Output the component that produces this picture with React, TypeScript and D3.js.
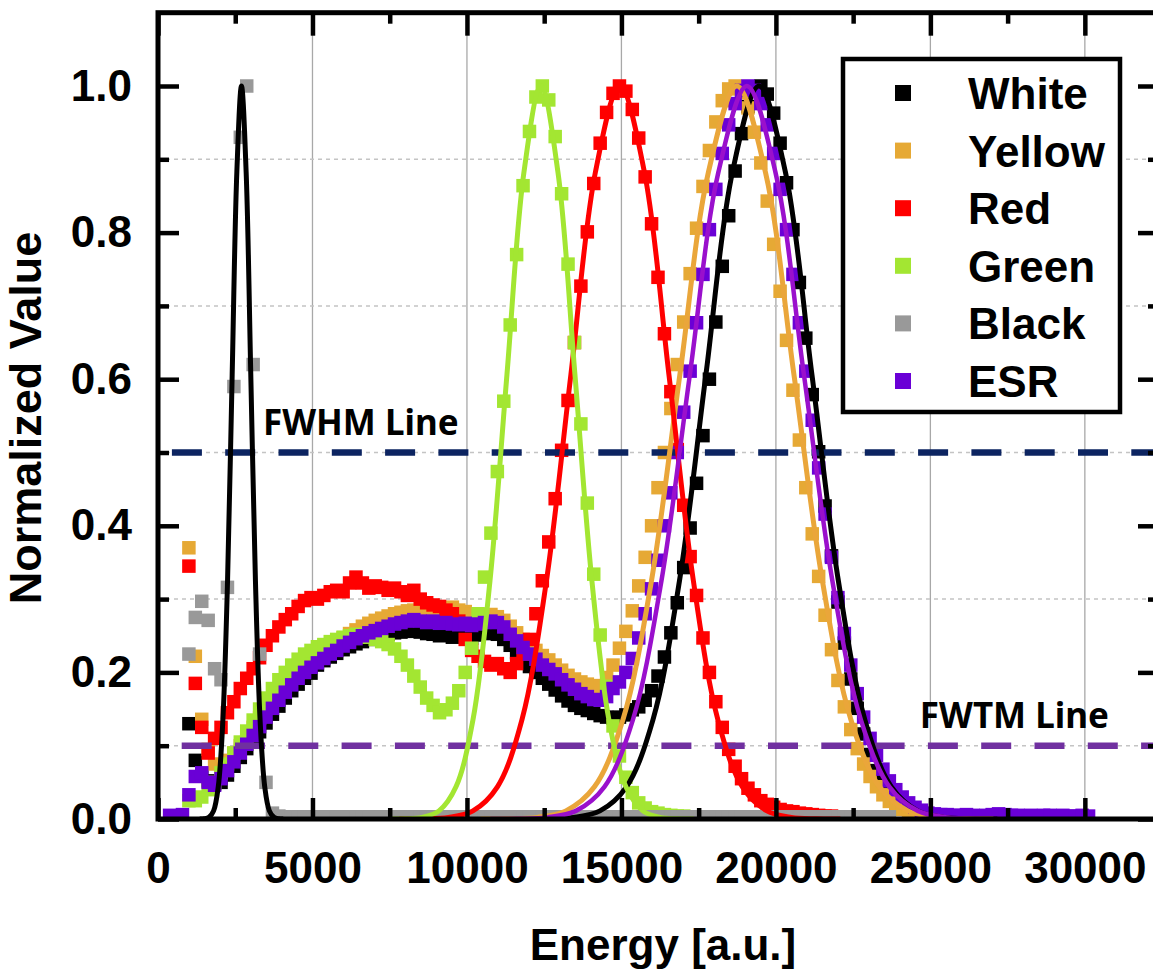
import React, { useRef, useEffect } from "react";
import * as d3 from "d3";

// spectra are binned every 208 a.u.
const binWidth = 208;

const seriesNames = ["White", "Yellow", "Red", "Green", "Black", "ESR"];
const markerColors = ["#000000", "#e6a935", "#ff0000", "#a3e632", "#999999", "#6a00d6"];
const fitColors = ["#000000", "#eaa63a", "#ff0000", "#a3e632", "#000000", "#9a10cc"];
const firstBin = [1000, 1000, 1000, 1000, 1000, 376];

const whiteValues = [
  0.13, 0.08, 0.06, 0.052, 0.048, 0.05, 0.06, 0.072, 0.084, 0.096,
  0.107, 0.119, 0.131, 0.143, 0.154, 0.165, 0.175, 0.184, 0.192, 0.199,
  0.21, 0.216, 0.221, 0.226, 0.231, 0.235, 0.239, 0.242, 0.245, 0.248,
  0.25, 0.252, 0.254, 0.255, 0.256, 0.257, 0.255, 0.253, 0.252, 0.25,
  0.251, 0.248, 0.25, 0.249, 0.247, 0.251, 0.253, 0.255, 0.252, 0.245,
  0.237, 0.227, 0.217, 0.208, 0.2, 0.192, 0.184, 0.176, 0.168, 0.161,
  0.155, 0.151, 0.148, 0.144, 0.141, 0.139, 0.138, 0.139, 0.142, 0.149,
  0.153, 0.162, 0.175, 0.195, 0.221, 0.254, 0.295, 0.343, 0.397, 0.458,
  0.523, 0.6, 0.678, 0.754, 0.823, 0.884, 0.935, 0.972, 0.994, 1.0,
  0.989, 0.963, 0.922, 0.868, 0.804, 0.732, 0.656, 0.579, 0.501, 0.427,
  0.359, 0.296, 0.24, 0.191, 0.151, 0.116, 0.088, 0.066, 0.049, 0.035,
  0.025, 0.018, 0.013, 0.009, 0.007, 0.005,
];

const yellowValues = [
  0.37, 0.222, 0.136, 0.095, 0.075, 0.072, 0.08, 0.09, 0.1, 0.112,
  0.125, 0.138, 0.151, 0.164, 0.176, 0.187, 0.197, 0.206, 0.214, 0.221,
  0.225, 0.231, 0.236, 0.242, 0.247, 0.253, 0.258, 0.263, 0.267, 0.271,
  0.274, 0.277, 0.28, 0.282, 0.284, 0.285, 0.283, 0.282, 0.284, 0.286,
  0.287, 0.289, 0.285, 0.283, 0.28, 0.279, 0.277, 0.279, 0.276, 0.271,
  0.263, 0.254, 0.245, 0.237, 0.23, 0.223, 0.217, 0.21, 0.203, 0.196,
  0.191, 0.187, 0.184, 0.181, 0.182, 0.193, 0.21, 0.233, 0.256, 0.284,
  0.318, 0.357, 0.4, 0.452, 0.5, 0.56, 0.62, 0.678, 0.744, 0.806,
  0.863, 0.912, 0.951, 0.98, 0.996, 1.0, 0.991, 0.97, 0.937, 0.895,
  0.843, 0.784, 0.72, 0.653, 0.585, 0.517, 0.452, 0.389, 0.331, 0.278,
  0.231, 0.189, 0.153, 0.122, 0.096, 0.075, 0.058, 0.044, 0.033, 0.024,
  0.018, 0.013, 0.01, 0.008, 0.006, 0.005,
];

const redValues = [
  0.345, 0.185, 0.125, 0.09, 0.11, 0.125, 0.145, 0.16, 0.178, 0.192,
  0.205, 0.22, 0.237, 0.25, 0.262, 0.272, 0.28, 0.29, 0.298, 0.302,
  0.3, 0.305, 0.31, 0.312, 0.31, 0.322, 0.33, 0.322, 0.315, 0.318,
  0.316, 0.312, 0.315, 0.31, 0.305, 0.312, 0.3, 0.295, 0.292, 0.29,
  0.285, 0.28, 0.27, 0.245, 0.23, 0.222, 0.215, 0.21, 0.212, 0.205,
  0.2, 0.212, 0.225, 0.245, 0.28, 0.325, 0.378, 0.437, 0.503, 0.571,
  0.65, 0.727, 0.801, 0.867, 0.922, 0.964, 0.99, 1.0, 0.993, 0.968,
  0.929, 0.876, 0.812, 0.739, 0.662, 0.583, 0.504, 0.428, 0.358, 0.305,
  0.247, 0.2, 0.16, 0.125, 0.095, 0.072, 0.055, 0.042, 0.033, 0.025,
  0.02, 0.016, 0.013, 0.011, 0.01, 0.008, 0.007, 0.006, 0.005, 0.004,
  0.004, 0.003, 0.003, 0.002, 0.002, 0.002,
];

const greenValues = [
  0.025, 0.025, 0.03, 0.04, 0.05, 0.063, 0.075, 0.09, 0.105, 0.12,
  0.135, 0.15, 0.165, 0.178, 0.19, 0.2, 0.21, 0.218, 0.225, 0.23,
  0.235, 0.238, 0.242, 0.245, 0.248, 0.25, 0.252, 0.25, 0.248, 0.245,
  0.242, 0.238, 0.232, 0.222, 0.21, 0.195, 0.18, 0.165, 0.155, 0.145,
  0.149, 0.158, 0.175, 0.2, 0.233, 0.28, 0.33, 0.39, 0.474, 0.57,
  0.674, 0.77, 0.864, 0.938, 0.985, 1.0, 0.981, 0.931, 0.853, 0.757,
  0.65, 0.539, 0.431, 0.334, 0.251, 0.181, 0.127, 0.086, 0.057, 0.036,
  0.022, 0.015, 0.01, 0.008, 0.006, 0.005, 0.004, 0.004, 0.003, 0.003,
  0.003, 0.003, 0.003, 0.003, 0.003, 0.003, 0.003, 0.003, 0.003, 0.003,
  0.003, 0.003, 0.003, 0.003, 0.003, 0.003, 0.003, 0.003, 0.003, 0.003,
  0.003, 0.003, 0.003, 0.003, 0.003, 0.003, 0.003, 0.003, 0.003, 0.003,
];

const blackValues = [
  0.225, 0.275, 0.297, 0.271, 0.205, 0.19, 0.316, 0.59, 0.93, 1.0,
  0.62, 0.225, 0.05, 0.008, 0.004, 0.003, 0.003, 0.003, 0.003, 0.003,
  0.003, 0.003, 0.003, 0.003, 0.003, 0.003, 0.003, 0.003, 0.003, 0.003,
  0.003, 0.003, 0.003, 0.003, 0.003, 0.003, 0.003, 0.003, 0.003, 0.003,
  0.003, 0.003, 0.003, 0.003, 0.003, 0.003, 0.003, 0.003, 0.003, 0.003,
  0.003, 0.003, 0.003, 0.003, 0.003, 0.003, 0.003, 0.003, 0.003, 0.003,
  0.003, 0.003, 0.003, 0.003, 0.003, 0.003, 0.003, 0.003, 0.003, 0.003,
  0.003, 0.003, 0.003, 0.003, 0.003, 0.003, 0.003, 0.003, 0.003, 0.003,
  0.003, 0.003, 0.003, 0.003, 0.003, 0.003, 0.003, 0.003, 0.003, 0.003,
  0.003, 0.003, 0.003, 0.003, 0.003, 0.003, 0.003, 0.003, 0.003, 0.003,
  0.003, 0.003, 0.003, 0.003, 0.003, 0.003, 0.003, 0.003, 0.003, 0.003,
];

const esrValues = [
  0.005, 0.004, 0.006,
  0.033, 0.058, 0.063, 0.05, 0.046, 0.055, 0.066, 0.078, 0.09, 0.102,
  0.114, 0.126, 0.139, 0.151, 0.162, 0.173, 0.183, 0.192, 0.2, 0.207,
  0.213, 0.219, 0.225, 0.23, 0.236, 0.241, 0.246, 0.25, 0.254, 0.257,
  0.26, 0.263, 0.266, 0.268, 0.27, 0.272, 0.27, 0.268, 0.27, 0.267,
  0.268, 0.266, 0.265, 0.267, 0.264, 0.266, 0.268, 0.27, 0.268, 0.262,
  0.252, 0.243, 0.234, 0.225, 0.218, 0.21, 0.204, 0.198, 0.19, 0.183,
  0.177, 0.171, 0.167, 0.163, 0.162, 0.167, 0.178, 0.187, 0.2, 0.219,
  0.247, 0.28, 0.314, 0.353, 0.4, 0.445, 0.5, 0.555, 0.611, 0.677,
  0.743, 0.804, 0.859, 0.908, 0.947, 0.976, 0.994, 1.0, 0.994, 0.976,
  0.947, 0.908, 0.859, 0.804, 0.743, 0.677, 0.611, 0.544, 0.479, 0.416,
  0.357, 0.302, 0.253, 0.21, 0.171, 0.139, 0.11, 0.087, 0.068, 0.052,
  0.04, 0.03, 0.022, 0.016, 0.012, 0.008, 0.007, 0.006, 0.006, 0.005,
  0.005, 0.006, 0.005, 0.004, 0.005, 0.006, 0.007, 0.006, 0.005, 0.005,
  0.004, 0.005, 0.004, 0.005, 0.005, 0.004, 0.005, 0.004, 0.004, 0.005, 0.004,
];

const seriesValues = [whiteValues, yellowValues, redValues, greenValues, blackValues, esrValues];

// gaussian fits: normalized profile (half-sigma steps) and the energies of each fit
const fitProfile = [0, 0.0003, 0.0022, 0.0111, 0.0439, 0.1353, 0.3247, 0.6065, 0.8825, 1,
  0.8825, 0.6065, 0.3247, 0.1353, 0.0439, 0.0111, 0.0022, 0.0003, 0];
const whiteFitEnergy = [11733, 12590, 13448, 14305, 15163, 16020, 16878, 17735, 18593, 19450,
  20308, 21165, 22023, 22880, 23738, 24595, 25453, 26310, 27168];
const yellowFitEnergy = [10436, 11358, 12281, 13203, 14126, 15048, 15971, 16893, 17816, 18738,
  19661, 20583, 21506, 22428, 23351, 24273, 25196, 26118, 27041];
const redFitEnergy = [7814, 8607, 9400, 10193, 10986, 11779, 12572, 13365, 14158, 14951,
  15744, 16537, 17330, 18123, 18916, 19709, 20502, 21295, 22088];
const greenFitEnergy = [7445, 7995, 8545, 9095, 9645, 10195, 10745, 11295, 11845, 12395,
  12945, 13495, 14045, 14595, 15145, 15695, 16245, 16795, 17345];
const blackFitEnergy = [1348, 1498, 1649, 1799, 1950, 2100, 2251, 2401, 2552, 2702,
  2853, 3003, 3154, 3304, 3455, 3605, 3756, 3906, 4057];
const esrFitEnergy = [10759, 11681, 12604, 13526, 14449, 15371, 16294, 17216, 18139, 19061,
  19984, 20906, 21829, 22751, 23674, 24596, 25519, 26441, 27364];
const fitEnergies = [whiteFitEnergy, yellowFitEnergy, redFitEnergy, greenFitEnergy, blackFitEnergy, esrFitEnergy];

const xTicks = [0, 5000, 10000, 15000, 20000, 25000, 30000];
const xMinorTicks = [2500, 7500, 12500, 17500, 22500, 27500];
const yTicks = [0, 0.2, 0.4, 0.6, 0.8, 1.0];
const yMinorTicks = [0.1, 0.3, 0.5, 0.7, 0.9];

const refLabels = ["FWHM Line", "FWTM Line"];
const refValues = [0.5, 0.1];
const refStart = [450, 767];
const refLabelAt = [3400, 24660];
const refColors = ["#0c2461", "#7030a0"];

const App = () => {
  const svgRef = useRef(null);
  const width = 1153;
  const height = 973;
  const left = 158, right = 1159, top = 12.7, bottom = 819;
  const markerSize = 13.5;

  useEffect(() => {
    const svg = d3.select(svgRef.current);
    svg.selectAll("*").remove();
    const font = "'Liberation Sans', Arial, sans-serif";

    const x = d3.scaleLinear().domain([0, 32400]).range([left, right]);
    const y = d3.scaleLinear().domain([0, 1.1]).range([bottom, top]);

    svg.append("defs").append("clipPath").attr("id", "plotClip")
      .append("rect")
      .attr("x", left).attr("y", top)
      .attr("width", right - left).attr("height", bottom - top);

    // grid
    const vGrid = svg.append("g");
    vGrid.selectAll("line").data(xTicks.filter(d => d > 0)).join("line")
      .attr("x1", d => x(d)).attr("x2", d => x(d))
      .attr("y1", top).attr("y2", bottom)
      .attr("stroke", "#a8a8a8").attr("stroke-width", 1.3);
    const hGrid = svg.append("g");
    hGrid.selectAll("line").data(yMinorTicks).join("line")
      .attr("x1", left).attr("x2", right)
      .attr("y1", d => y(d)).attr("y2", d => y(d))
      .attr("stroke", "#c4c4c4").attr("stroke-width", 1.5)
      .attr("stroke-dasharray", "4,4");

    const plot = svg.append("g").attr("clip-path", "url(#plotClip)");

    // scatter
    seriesValues.forEach((vals, s) => {
      plot.append("g").selectAll("rect").data(vals).join("rect")
        .attr("x", (d, i) => x(firstBin[s] + i * binWidth) - markerSize / 2)
        .attr("y", d => y(d) - markerSize / 2)
        .attr("width", markerSize).attr("height", markerSize)
        .attr("fill", markerColors[s]);
    });

    // FWHM / FWTM lines
    refValues.forEach((v, k) => {
      plot.append("line")
        .attr("x1", x(refStart[k])).attr("x2", right)
        .attr("y1", y(v)).attr("y2", y(v))
        .attr("stroke", refColors[k]).attr("stroke-width", 6.5)
        .attr("stroke-dasharray", "30,23.3");
      svg.append("text")
        .attr("x", x(refLabelAt[k])).attr("y", y(v) - 18)
        .attr("font-family", "'Noto Sans', 'Open Sans', sans-serif")
        .attr("font-weight", "bold").attr("font-size", 35)
        .attr("fill", "#000")
        .text(refLabels[k]);
    });

    // fit curves
    const line = d3.line()
      .x(d => x(d[0])).y(d => y(d[1]))
      .curve(d3.curveCatmullRom.alpha(0.5));
    fitEnergies.forEach((es, s) => {
      plot.append("path")
        .datum(es.map((e, k) => [e, fitProfile[k]]))
        .attr("d", line)
        .attr("fill", "none")
        .attr("stroke", fitColors[s])
        .attr("stroke-width", s === 5 ? 4.5 : 5)
        .attr("stroke-linejoin", "round");
    });

    // frame
    svg.append("rect")
      .attr("x", left).attr("y", top)
      .attr("width", right - left).attr("height", bottom - top)
      .attr("fill", "none").attr("stroke", "#000").attr("stroke-width", 5);

    const styleAxis = (g) => {
      g.select(".domain").remove();
      g.selectAll(".tick line").attr("stroke", "#000").attr("stroke-width", 4.5);
      g.attr("font-family", font).attr("font-weight", "bold").attr("font-size", 44);
      g.selectAll(".tick text").attr("fill", "#000");
    };

    svg.append("g").attr("transform", `translate(0,${bottom})`)
      .call(d3.axisBottom(x).tickValues(xTicks).tickSize(-21).tickPadding(33).tickFormat(d3.format("d")))
      .call(styleAxis);
    svg.append("g").attr("transform", `translate(0,${bottom})`)
      .call(d3.axisBottom(x).tickValues(xMinorTicks).tickSize(-11).tickFormat(() => ""))
      .call(styleAxis);
    svg.append("g").attr("transform", `translate(0,${top})`)
      .call(d3.axisTop(x).tickValues(xTicks).tickSize(-23).tickFormat(() => ""))
      .call(styleAxis);
    svg.append("g").attr("transform", `translate(0,${top})`)
      .call(d3.axisTop(x).tickValues(xMinorTicks).tickSize(-11).tickFormat(() => ""))
      .call(styleAxis);
    svg.append("g").attr("transform", `translate(${left},0)`)
      .call(d3.axisLeft(y).tickValues(yTicks).tickSize(-21).tickPadding(26).tickFormat(d3.format(".1f")))
      .call(styleAxis);
    svg.append("g").attr("transform", `translate(${left},0)`)
      .call(d3.axisLeft(y).tickValues(yMinorTicks).tickSize(-11).tickFormat(() => ""))
      .call(styleAxis);
    svg.append("g").attr("transform", `translate(${right},0)`)
      .call(d3.axisRight(y).tickValues(yTicks).tickSize(-21).tickFormat(() => ""))
      .call(styleAxis);
    svg.append("g").attr("transform", `translate(${right},0)`)
      .call(d3.axisRight(y).tickValues(yMinorTicks).tickSize(-11).tickFormat(() => ""))
      .call(styleAxis);

    // axis titles
    svg.append("text")
      .attr("x", 663).attr("y", 960)
      .attr("text-anchor", "middle")
      .attr("font-family", font).attr("font-weight", "bold").attr("font-size", 44)
      .text("Energy [a.u.]");
    svg.append("text")
      .attr("transform", "translate(41,418) rotate(-90)")
      .attr("text-anchor", "middle")
      .attr("font-family", font).attr("font-weight", "bold").attr("font-size", 45)
      .text("Normalized Value");

    // legend
    const legend = svg.append("g");
    legend.append("rect")
      .attr("x", 843).attr("y", 59).attr("width", 277).attr("height", 353)
      .attr("fill", "#fff").attr("stroke", "#000").attr("stroke-width", 4.5);
    seriesNames.forEach((name, i) => {
      const cy = 93 + i * 57.6;
      legend.append("rect")
        .attr("x", 895).attr("y", cy - 8).attr("width", 16).attr("height", 16)
        .attr("fill", markerColors[i]);
      legend.append("text")
        .attr("x", 968).attr("y", cy + 16)
        .attr("font-family", font).attr("font-weight", "bold").attr("font-size", 44)
        .text(name);
    });
  }, []);

  return (
    <div>
      <svg ref={svgRef} width={width} height={height}
        style={{ position: "absolute", left: 0, top: 0, background: "#fff" }} />
    </div>
  );
};

export default App;
